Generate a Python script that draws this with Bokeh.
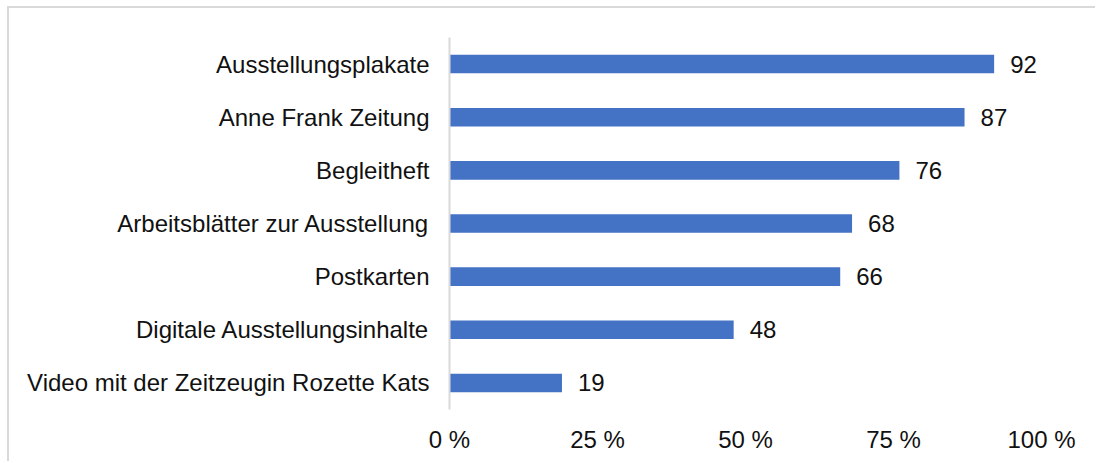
from bokeh.plotting import figure
from bokeh.models import ColumnDataSource, FactorRange, Range1d, FixedTicker
from bokeh.core.properties import value
from bokeh.embed import file_html
from bokeh.resources import INLINE

categories = [
    "Video mit der Zeitzeugin Rozette Kats",
    "Digitale Ausstellungsinhalte",
    "Postkarten",
    "Arbeitsblätter zur Ausstellung",
    "Begleitheft",
    "Anne Frank Zeitung",
    "Ausstellungsplakate",
]
values = [19, 48, 66, 68, 76, 87, 92]
tick_values = [0, 25, 50, 75, 100]
tick_labels = {0: "0 %", 25: "25 %", 50: "50 %", 75: "75 %", 100: "100 %"}

FONT = "Liberation Sans"
TXT = "#111111"
FS = "24px"

src = ColumnDataSource(dict(cat=categories, val=values, lab=[str(v) for v in values]))

p = figure(
    width=1088, height=455,
    y_range=FactorRange(*categories, range_padding=0),
    x_range=Range1d(0, 100),
    output_backend="svg", toolbar_location=None,
    min_border_left=440, min_border_right=56,
    min_border_top=29, min_border_bottom=54,
)
p.styles = {"border-left": "2px solid #d9d9d9", "border-top": "2px solid #d9d9d9",
            "margin-left": "7px", "margin-top": "6px"}
p.outline_line_color = None
p.xgrid.grid_line_color = None
p.ygrid.grid_line_color = None

p.hbar(y="cat", right="val", left=0, height=0.35, source=src,
       fill_color="#4472C4", line_color=None)
p.text(x="val", y="cat", text="lab", source=src, x_offset=16,
       text_baseline="middle", text_align="left",
       text_font=value(FONT), text_font_size=FS, text_color=TXT)

xa = p.xaxis[0]
xa.ticker = FixedTicker(ticks=tick_values)
xa.major_label_overrides = tick_labels
xa.axis_line_color = None
xa.major_tick_line_color = None
xa.minor_tick_line_color = None
xa.major_label_standoff = 10
xa.major_label_text_font = FONT
xa.major_label_text_font_size = FS
xa.major_label_text_color = TXT

ya = p.yaxis[0]
ya.axis_line_color = "#d9d9d9"
ya.axis_line_width = 2
ya.major_tick_line_color = None
ya.minor_tick_line_color = None
ya.major_label_standoff = 14
ya.major_label_text_font = FONT
ya.major_label_text_font_size = FS
ya.major_label_text_color = TXT

open("out.html", "w").write(file_html(p, INLINE))
